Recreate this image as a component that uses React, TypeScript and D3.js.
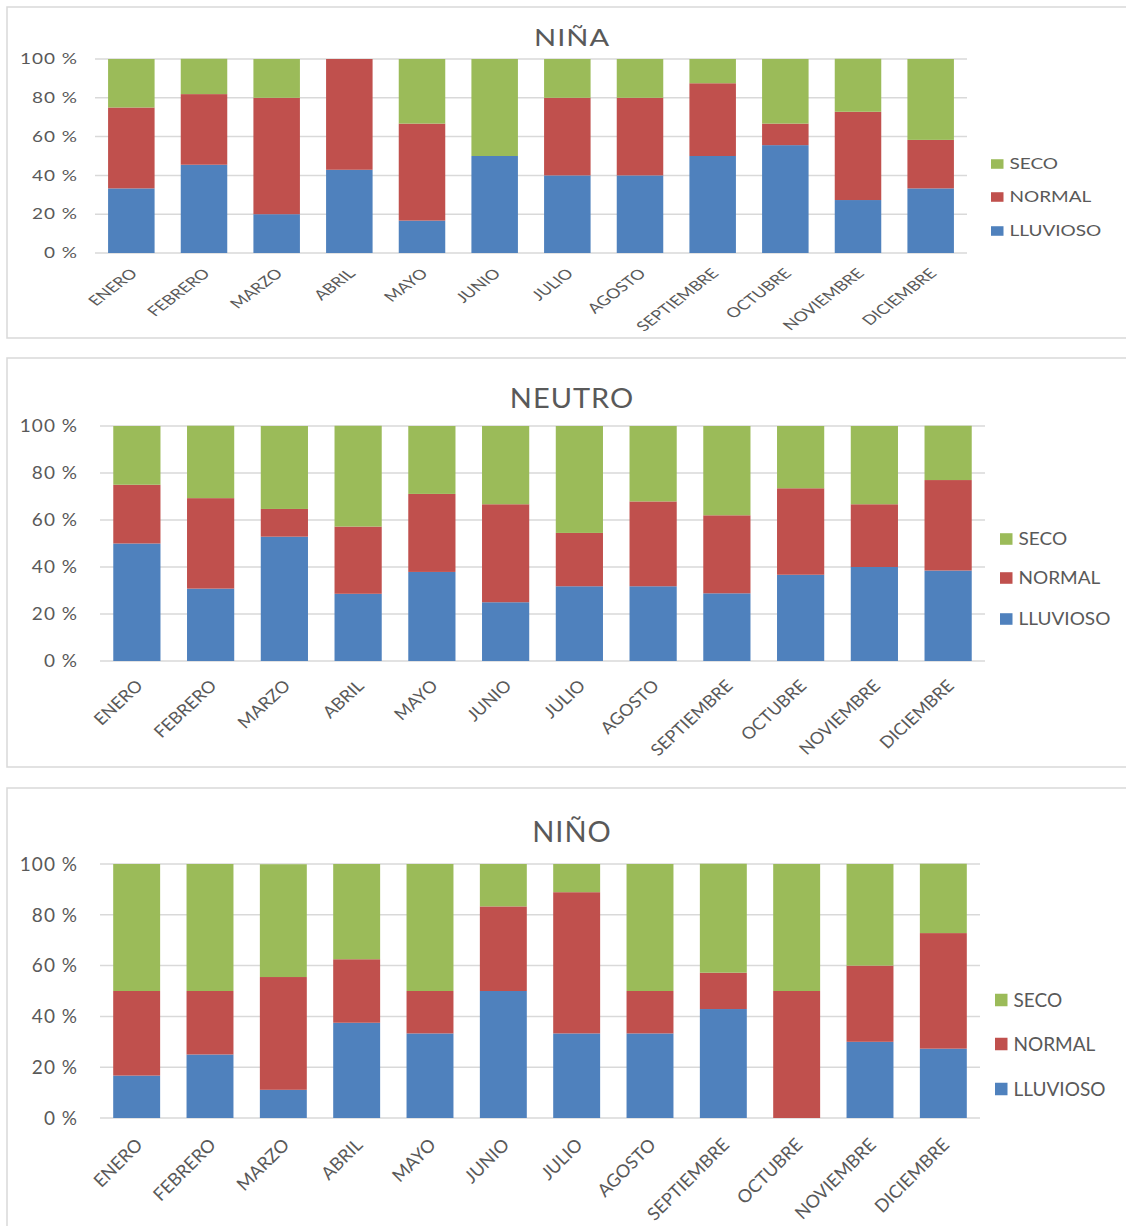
import React, {JSX} from "react";
import * as d3 from "d3";

const months = ["ENERO", "FEBRERO", "MARZO", "ABRIL", "MAYO", "JUNIO", "JULIO", "AGOSTO", "SEPTIEMBRE", "OCTUBRE", "NOVIEMBRE", "DICIEMBRE"];
const seriesNames = ["LLUVIOSO", "NORMAL", "SECO"];
const yTicks = [0, 20, 40, 60, 80, 100];

// porcentajes por mes (lluvioso, normal, seco)
const ninaLluvioso = [33.3, 45.5, 20, 42.9, 16.7, 50, 40, 40, 50, 55.6, 27.3, 33.3];
const ninaNormal = [41.7, 36.4, 60, 57.1, 50, 0, 40, 40, 37.5, 11.1, 45.5, 25];
const ninaSeco = [25, 18.2, 20, 0, 33.3, 50, 20, 20, 12.5, 33.3, 27.3, 41.7];

const neutroLluvioso = [50, 30.8, 52.9, 28.6, 37.9, 25, 31.8, 31.8, 28.8, 36.7, 40, 38.5];
const neutroNormal = [25, 38.5, 11.8, 28.6, 33.2, 41.7, 22.7, 36.1, 33.2, 36.8, 26.7, 38.5];
const neutroSeco = [25, 30.8, 35.3, 42.9, 28.9, 33.3, 45.5, 32.1, 38, 26.5, 33.3, 23.1];

const ninoLluvioso = [16.7, 25, 11.1, 37.5, 33.3, 50, 33.3, 33.3, 42.9, 0, 30, 27.3];
const ninoNormal = [33.3, 25, 44.4, 25, 16.7, 33.3, 55.6, 16.7, 14.3, 50, 30, 45.5];
const ninoSeco = [50, 50, 44.4, 37.5, 50, 16.7, 11.1, 50, 42.9, 50, 40, 27.3];

const colors = ["#4F81BD", "#C0504D", "#9BBB59"];
const textColor = "#595959";
const gridColor = "#D9D9D9";
const font = "Lato, 'Open Sans', sans-serif";

type PanelProps = {
    title: string;
    lluvioso: number[];
    normal: number[];
    seco: number[];
    boxTop: number;
    boxBottom: number;
    titleY: number;
    left: number;
    right: number;
    top: number;
    bottom: number;
    sy: number; // la imagen original está aplastada verticalmente en algunos paneles
    legendX: number;
    legendYs: number[];
};

const Panel = (p: PanelProps): JSX.Element => {
    const rows = months.map((m, i) => ({month: m, LLUVIOSO: p.lluvioso[i], NORMAL: p.normal[i], SECO: p.seco[i]}));
    const stack = d3.stack<any>().keys(seriesNames)(rows);
    const x = d3.scaleBand(months, [p.left, p.right]).paddingInner(0.36).paddingOuter(0.18);
    const y = d3.scaleLinear([0, 100], [p.bottom, p.top]);
    const legendOrder = [2, 1, 0];
    const sq = 12.5;
    return (
        <g>
            <rect x={7} y={p.boxTop} width={1130} height={p.boxBottom - p.boxTop} fill="white" stroke={gridColor} strokeWidth={1.5}/>
            <text transform={`translate(572,${p.titleY}) scale(1,${p.sy})`} textAnchor="middle" fontSize={29} fill={textColor} fontFamily={font} letterSpacing={1}>{p.title}</text>
            {yTicks.map(t => (
                <g key={t}>
                    <line x1={p.left} x2={p.right} y1={y(t)} y2={y(t)} stroke={gridColor} strokeWidth={1.5}/>
                    <text transform={`translate(78,${y(t)}) scale(1,${p.sy})`} dy="0.36em" textAnchor="end" fontSize={19} fill={textColor} fontFamily={font} letterSpacing={1}>{t} %</text>
                </g>
            ))}
            {stack.map((s, si) => (
                <g key={s.key} fill={colors[si]}>
                    {s.map((d, i) => (
                        <rect key={i} x={x(months[i])} width={x.bandwidth()} y={y(d[1])} height={y(d[0]) - y(d[1])}/>
                    ))}
                </g>
            ))}
            {months.map(m => {
                const cx = (x(m) as number) + x.bandwidth() / 2 + 7;
                const cy = p.bottom + 28 * p.sy;
                return (
                    <text key={m} transform={`translate(${cx},${cy}) scale(1,${p.sy}) rotate(-45)`} textAnchor="end" fontSize={18} fill={textColor} fontFamily={font}>{m}</text>
                );
            })}
            {legendOrder.map((si, k) => (
                <g key={si} transform={`translate(${p.legendX},${p.legendYs[k]}) scale(1,${p.sy})`}>
                    <rect x={0} y={-sq / 2} width={sq} height={sq} fill={colors[si]}/>
                    <text x={sq + 6} y={0} dy="0.36em" fontSize={19} fill={textColor} fontFamily={font}>{seriesNames[si]}</text>
                </g>
            ))}
        </g>
    );
};

export default function App(): JSX.Element {
    return (
        <svg width={1126} height={1226} style={{position: "absolute", left: 0, top: 0, display: "block", background: "white"}}>
            <Panel title="NIÑA" lluvioso={ninaLluvioso} normal={ninaNormal} seco={ninaSeco}
                   boxTop={7} boxBottom={338} titleY={46}
                   left={95} right={967} top={59} bottom={253} sy={0.764}
                   legendX={991} legendYs={[164, 197, 231]}/>
            <Panel title="NEUTRO" lluvioso={neutroLluvioso} normal={neutroNormal} seco={neutroSeco}
                   boxTop={358} boxBottom={767} titleY={408}
                   left={100} right={985} top={426} bottom={661} sy={0.925}
                   legendX={1000} legendYs={[539, 578, 619]}/>
            <Panel title="NIÑO" lluvioso={ninoLluvioso} normal={ninoNormal} seco={ninoSeco}
                   boxTop={788} boxBottom={1232} titleY={842}
                   left={100} right={980} top={864} bottom={1118} sy={1}
                   legendX={995} legendYs={[1000, 1044, 1089]}/>
        </svg>
    );
}
